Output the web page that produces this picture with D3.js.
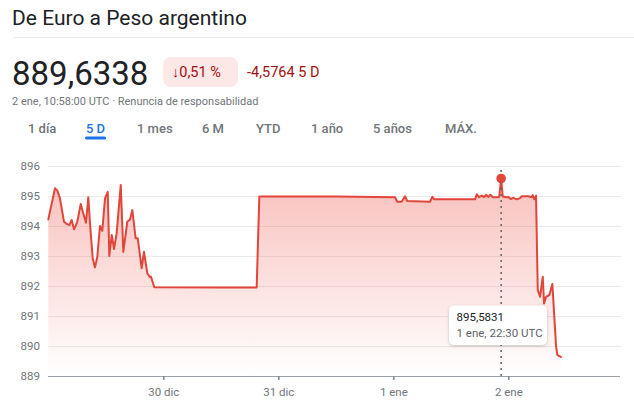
<!DOCTYPE html>
<html>
<head>
<meta charset="utf-8">
<script src="https://cdn.jsdelivr.net/npm/d3@7"></script>
<style>
  html, body { margin: 0; padding: 0; background: #fff; }
  svg { display: block; font-family: Roboto, "Open Sans", Arial, sans-serif; }
</style>
</head>
<body>
<svg id="chart" width="634" height="418"></svg>
<script>
// ---------- data ----------
const title = "De Euro a Peso argentino";
const priceText = "889,6338";
const changePct = "0,51 %";
const changeAbs = "-4,5764 5 D";
const dateLine = "2 ene, 10:58:00 UTC · Renuncia de responsabilidad";
const tabs = ["1 día", "5 D", "1 mes", "6 M", "YTD", "1 año", "5 años", "MÁX."];
const activeTab = "5 D";

const times = [
  "2023-12-29T00:00Z","2023-12-29T01:24Z","2023-12-29T01:53Z","2023-12-29T02:26Z","2023-12-29T03:17Z",
  "2023-12-29T03:50Z","2023-12-29T04:23Z","2023-12-29T04:53Z","2023-12-29T05:22Z","2023-12-29T06:03Z",
  "2023-12-29T06:46Z","2023-12-29T07:18Z","2023-12-29T07:52Z","2023-12-29T08:21Z","2023-12-29T08:42Z",
  "2023-12-29T09:16Z","2023-12-29T09:45Z","2023-12-29T10:14Z","2023-12-29T10:47Z","2023-12-29T11:16Z",
  "2023-12-29T11:50Z","2023-12-29T12:24Z","2023-12-29T12:44Z","2023-12-29T13:14Z","2023-12-29T13:43Z",
  "2023-12-29T14:16Z","2023-12-29T15:07Z","2023-12-29T15:39Z","2023-12-29T16:29Z","2023-12-29T17:03Z",
  "2023-12-29T17:32Z","2023-12-29T18:14Z","2023-12-29T18:40Z","2023-12-29T19:29Z","2023-12-29T19:58Z",
  "2023-12-29T20:40Z","2023-12-29T21:13Z","2023-12-29T21:26Z","2023-12-29T22:07Z",
  "2023-12-30T12:00Z","2023-12-30T19:29Z","2023-12-30T20:02Z","2023-12-31T12:00Z",
  "2024-01-01T00:21Z","2024-01-01T00:50Z","2024-01-01T01:45Z","2024-01-01T02:26Z","2024-01-01T02:55Z",
  "2024-01-01T07:40Z","2024-01-01T08:08Z","2024-01-01T08:33Z","2024-01-01T17:03Z","2024-01-01T17:25Z",
  "2024-01-01T17:53Z","2024-01-01T18:27Z","2024-01-01T18:56Z","2024-01-01T19:21Z","2024-01-01T19:50Z",
  "2024-01-01T20:15Z","2024-01-01T20:45Z","2024-01-01T21:26Z","2024-01-01T22:05Z","2024-01-01T22:30Z",
  "2024-01-01T22:50Z","2024-01-01T23:35Z",
  "2024-01-02T00:00Z","2024-01-02T00:30Z","2024-01-02T01:02Z","2024-01-02T01:45Z","2024-01-02T02:26Z",
  "2024-01-02T02:48Z","2024-01-02T04:10Z","2024-01-02T04:53Z","2024-01-02T05:05Z","2024-01-02T05:26Z",
  "2024-01-02T05:47Z","2024-01-02T06:08Z","2024-01-02T06:37Z","2024-01-02T07:11Z","2024-01-02T07:27Z",
  "2024-01-02T07:52Z","2024-01-02T08:34Z","2024-01-02T09:11Z","2024-01-02T09:23Z","2024-01-02T09:58Z",
  "2024-01-02T10:14Z","2024-01-02T10:40Z","2024-01-02T10:58Z"
];
const values = [
  894.22, 895.26, 895.18, 894.92, 894.14,
  894.07, 894.03, 894.20, 893.89, 894.14,
  894.73, 894.42, 894.11, 894.96, 894.10,
  892.92, 892.62, 892.98, 894.00, 893.84,
  894.92, 895.14, 893.00, 893.70, 893.23,
  893.76, 895.37, 893.14, 894.14, 894.22,
  894.53, 893.59, 893.59, 892.59, 893.14,
  892.42, 892.29, 892.31, 891.96,
  891.95, 891.95, 894.98, 894.98,
  894.96, 894.81, 894.81, 894.99, 894.83,
  894.81, 894.97, 894.89, 894.89, 895.06,
  894.96, 895.01, 894.96, 895.04, 894.97,
  895.04, 894.96, 894.96, 894.97, 895.5831,
  894.98, 894.96,
  894.97, 894.90, 894.94, 894.89, 894.93,
  894.99, 894.99, 894.96, 895.03, 894.89,
  895.01, 891.87, 891.64, 892.31, 891.42,
  891.64, 891.70, 892.07, 891.53, 889.98,
  889.70, 889.66, 889.6338
];
const yTicks = [889, 890, 891, 892, 893, 894, 895, 896];
const xTickDates = ["2023-12-30T00:00Z", "2023-12-31T00:00Z", "2024-01-01T00:00Z", "2024-01-02T00:00Z"];
const xTickLabels = ["30 dic", "31 dic", "1 ene", "2 ene"];
const hoverTime = "2024-01-01T22:30Z";
const hoverValue = "895,5831";
const hoverLabel = "1 ene, 22:30 UTC";

// ---------- drawing ----------
const data = times.map((t, i) => ({ t: new Date(t), v: values[i] }));
const svg = d3.select("#chart");

const x = d3.scaleUtc()
  .domain([new Date("2023-12-29T00:00Z"), new Date("2024-01-02T23:18Z")])
  .range([48.3, 620]);
const y = d3.scaleLinear().domain([889, 896]).range([376, 166]);

// Header
svg.append("text").attr("x", 12).attr("y", 25)
  .attr("font-size", 21).attr("fill", "#202124").text(title);
svg.append("line").attr("x1", 13).attr("x2", 634).attr("y1", 37.5).attr("y2", 37.5)
  .attr("stroke", "#e8eaed").attr("stroke-width", 1);

svg.append("text").attr("x", 12).attr("y", 85)
  .attr("font-size", 33).attr("fill", "#202124").text(priceText);

svg.append("rect").attr("x", 163).attr("y", 57).attr("width", 75).attr("height", 30)
  .attr("rx", 8).attr("fill", "#fce8e6");
svg.append("text").attr("x", 172).attr("y", 77)
  .attr("font-size", 14.5).attr("fill", "#a50e0e").text("↓" + changePct);
svg.append("text").attr("x", 247).attr("y", 77)
  .attr("font-size", 14.5).attr("fill", "#a50e0e").text(changeAbs);

svg.append("text").attr("x", 12).attr("y", 105)
  .attr("font-size", 11).attr("fill", "#70757a").text(dateLine);

const tabX = [28, 86, 137, 202, 256, 311, 373, 445];
tabs.forEach((t, i) => {
  const active = t === activeTab;
  const tx = svg.append("text").attr("x", tabX[i]).attr("y", 133)
    .attr("font-size", 13).attr("font-weight", 500)
    .attr("fill", active ? "#1a73e8" : "#70757a").text(t);
  if (active) {
    const w = tx.node().getComputedTextLength();
    svg.append("rect").attr("x", tabX[i] - 1).attr("y", 136.5).attr("width", w + 2).attr("height", 3)
      .attr("rx", 1.5).attr("fill", "#1a73e8");
  }
});

// Gradient
const defs = svg.append("defs");
const grad = defs.append("linearGradient").attr("id", "fillGrad")
  .attr("gradientUnits", "userSpaceOnUse")
  .attr("x1", 0).attr("x2", 0).attr("y1", y(895.3)).attr("y2", y(889));
grad.append("stop").attr("offset", 0).attr("stop-color", "#ea4335").attr("stop-opacity", 0.32);
grad.append("stop").attr("offset", 1).attr("stop-color", "#ea4335").attr("stop-opacity", 0.0);
const shadow = defs.append("filter").attr("id", "shadow")
  .attr("x", "-20%").attr("y", "-30%").attr("width", "140%").attr("height", "170%");
shadow.append("feDropShadow").attr("dx", 0).attr("dy", 1).attr("stdDeviation", 1.6)
  .attr("flood-color", "#3c4043").attr("flood-opacity", 0.3);

// Grid lines
svg.append("g").selectAll("line").data(yTicks.filter(d => d !== 889)).join("line")
  .attr("x1", 48).attr("x2", 621)
  .attr("y1", d => y(d) + 0.5).attr("y2", d => y(d) + 0.5)
  .attr("stroke", "#ebebeb").attr("stroke-width", 1);

// Y labels
svg.append("g").selectAll("text").data(yTicks).join("text")
  .attr("x", 40).attr("y", d => y(d) + 4)
  .attr("text-anchor", "end").attr("font-size", 11.5).attr("fill", "#70757a")
  .text(d => d);

// Area + line
const area = d3.area().x(d => x(d.t)).y0(y(889)).y1(d => y(d.v));
const line = d3.line().x(d => x(d.t)).y(d => y(d.v));
svg.append("path").datum(data).attr("d", area).attr("fill", "url(#fillGrad)");
svg.append("path").datum(data).attr("d", line)
  .attr("fill", "none").attr("stroke", "#e2453a").attr("stroke-width", 2)
  .attr("stroke-linejoin", "round").attr("stroke-linecap", "round");

// X axis
const xAxis = d3.axisBottom(x)
  .tickValues(xTickDates.map(d => new Date(d)))
  .tickFormat((d, i) => xTickLabels[i])
  .tickSize(4).tickPadding(8).tickSizeOuter(0);
const gx = svg.append("g").attr("transform", `translate(0,${y(889)})`).call(xAxis);
gx.select(".domain").attr("stroke", "#9aa0a6").attr("d", `M48,0.5H620`);
gx.selectAll(".tick line").attr("stroke", "#80868b").attr("stroke-width", 1.5);
gx.selectAll(".tick text").attr("font-size", 11.5).attr("fill", "#70757a")
  .attr("font-family", "Roboto, sans-serif");

// Hover marker
const ht = new Date(hoverTime);
const hv = data.find(d => +d.t === +ht).v;
svg.append("line").attr("x1", x(ht)).attr("x2", x(ht)).attr("y1", 170).attr("y2", y(889))
  .attr("stroke", "#5f6368").attr("stroke-width", 1.5).attr("stroke-dasharray", "2,4");
svg.append("circle").attr("cx", x(ht)).attr("cy", y(hv)).attr("r", 4.8).attr("fill", "#e2453a");

// Tooltip
const tip = svg.append("g").attr("transform", "translate(449,305.5)");
tip.append("rect").attr("width", 98).attr("height", 39.5).attr("rx", 5)
  .attr("fill", "#fff").attr("filter", "url(#shadow)");
tip.append("text").attr("x", 7.5).attr("y", 15.5).attr("font-size", 11.5)
  .attr("fill", "#202124").text(hoverValue);
tip.append("text").attr("x", 7.5).attr("y", 31).attr("font-size", 11.5)
  .attr("fill", "#5f6368").text(hoverLabel);
</script>
</body>
</html>
